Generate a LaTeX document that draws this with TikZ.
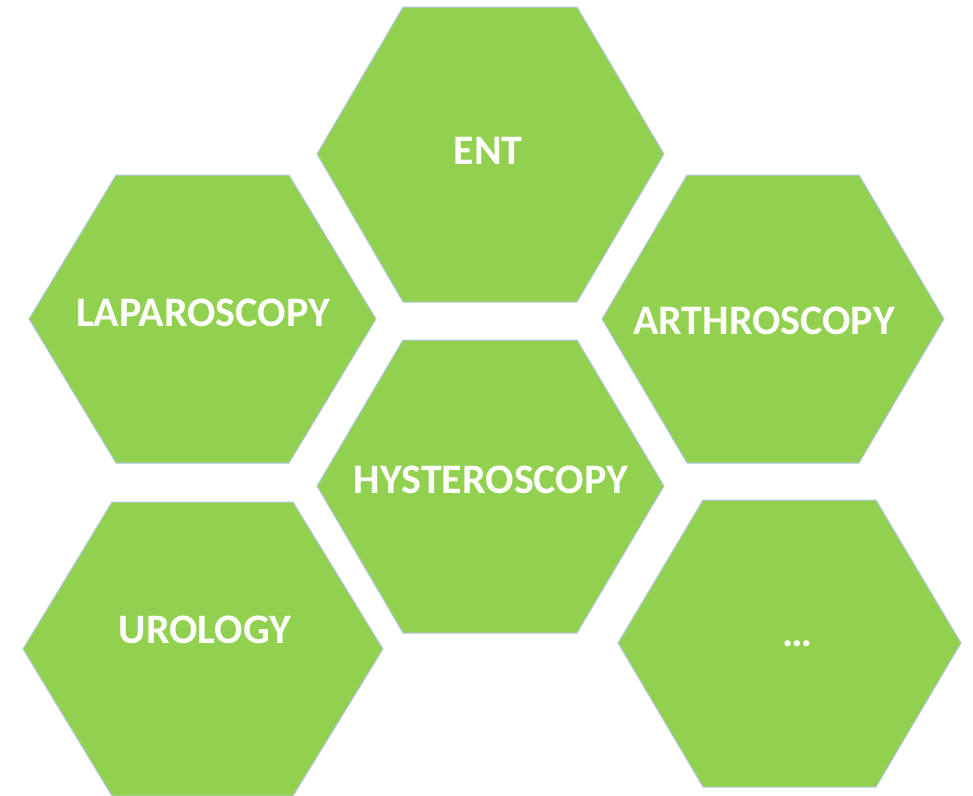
\documentclass[tikz,border=0pt]{standalone}
\usepackage{fontspec}
\setmainfont{Carlito}
\definecolor{cellgreen}{RGB}{146,208,80}
\definecolor{cellline}{RGB}{180,199,231}
\tikzset{
	hexcell/.style={fill=cellgreen,draw=cellline,line width=1pt,line join=miter},
	celltext/.style={anchor=base,text=white,font=\fontsize{42}{50}\selectfont\bfseries,inner sep=0pt}
}
\begin{document}
\begin{tikzpicture}[x={(1pt,0pt)},y={(0pt,-1pt)}]
	\useasboundingbox (0,0) rectangle (973,795);
	% cells
	\draw[hexcell] (403,7) -- (577,7) -- (664,154) -- (577,302) -- (403,302) -- (317,154) -- cycle;
	\draw[hexcell] (116,175) -- (289,175) -- (376,319) -- (289,463) -- (116,463) -- (29,319) -- cycle;
	\draw[hexcell] (687,175) -- (859,175) -- (944,319) -- (859,463) -- (687,463) -- (602,319) -- cycle;
	\draw[hexcell] (403,340) -- (577,340) -- (664,486) -- (577,633) -- (403,633) -- (317,486) -- cycle;
	\draw[hexcell] (112,502) -- (293,502) -- (383,649) -- (293,796) -- (112,796) -- (23,649) -- cycle;
	\draw[hexcell] (703,500) -- (876,500) -- (961,643) -- (876,787) -- (703,787) -- (618,643) -- cycle;
	% labels
	\node[celltext] (ent) at (488,164) {ENT};
	\node[celltext] (lap) at (203,326) {LAPAROSCOPY};
	\node[celltext] (arth) at (764,334) {ARTHROSCOPY};
	\node[celltext] (hyst) at (491,493) {HYSTEROSCOPY};
	\node[celltext] (uro) at (205,643) {UROLOGY};
	\node[celltext] (more) at (797,646) {…};
\end{tikzpicture}
\end{document}
